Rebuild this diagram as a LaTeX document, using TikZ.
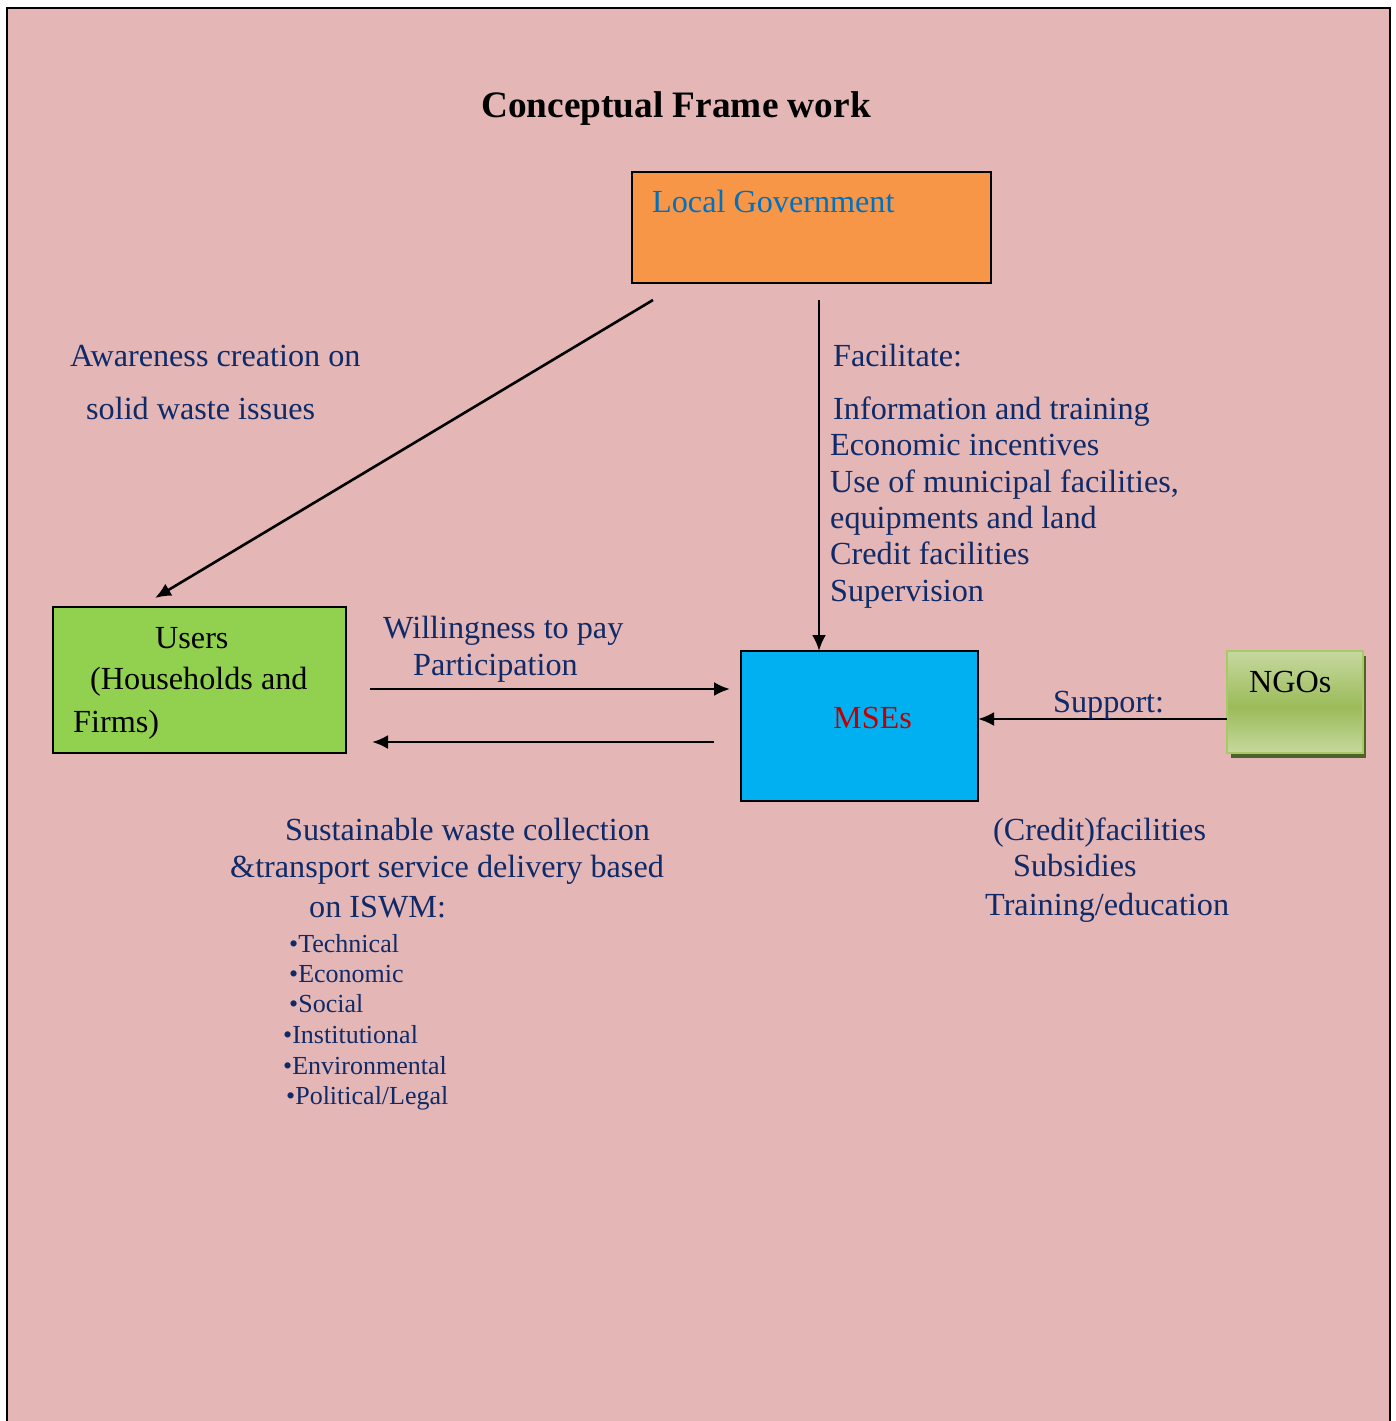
\documentclass[tikz,border=0pt]{standalone}
\usepackage{fontspec}
\setmainfont{Liberation Serif}
\usetikzlibrary{arrows.meta,shadows}
\definecolor{bgpink}{HTML}{E4B6B6}
\definecolor{lgorange}{HTML}{F79646}
\definecolor{usergreen}{HTML}{92D050}
\definecolor{msecyan}{HTML}{00B0F0}
\definecolor{navy}{HTML}{0F2A68}
\definecolor{lgblue}{HTML}{0070C0}
\definecolor{msered}{HTML}{C00000}
\definecolor{ngolight}{HTML}{C6D99F}
\definecolor{ngomid}{HTML}{9BBB59}
\definecolor{ngoborder}{HTML}{A8C86A}
\definecolor{ngoshadow}{HTML}{4F6228}
\tikzset{
  body/.style={inner sep=0pt, anchor=base west, text=navy, font=\fontsize{32.2}{36}\selectfont},
  small/.style={inner sep=0pt, anchor=base west, text=navy, font=\fontsize{26}{30}\selectfont},
  conn/.style={line width=2.6pt, -{Latex[length=16pt,width=14pt]}},
  boxline/.style={line width=1.8pt, draw=black},
}
\begin{document}
\begin{tikzpicture}[x=1pt,y=-1pt]
\useasboundingbox (0,0) rectangle (1395,1421);
\fill[white] (0,0) rectangle (1395,1421);
\fill[bgpink] (7,8) rectangle (1390,1421);
\draw[line width=2.5pt] (7,1421) -- (7,8) -- (1390,8) -- (1390,1421);

% title
\node[inner sep=0pt, anchor=base, font=\bfseries\fontsize{37.3}{40}\selectfont] (title) at (676,117) {Conceptual Frame work};

% boxes
\filldraw[boxline, fill=lgorange] (632,172) rectangle (991,283);
\node[body, text=lgblue] (lgtext) at (652,212) {Local Government};

\filldraw[boxline, fill=usergreen] (53,607) rectangle (346,753);
\node[body, text=black] (u1) at (155,648) {Users};
\node[body, text=black] (u2) at (90,689) {(Households and};
\node[body, text=black] (u3) at (73,732) {Firms)};

\filldraw[boxline, fill=msecyan] (741,651) rectangle (978,801);
\node[body, text=msered] (mse) at (833,728) {MSEs};

% NGOs box with shadow and gradient
\fill[ngoshadow] (1231,656) rectangle (1366,758);
\shade[top color=ngolight, bottom color=ngomid] (1227,651) rectangle (1363,707);
\shade[top color=ngomid, bottom color=ngolight] (1227,707) rectangle (1363,753);
\draw[ngoborder, line width=2.2pt] (1227,651) rectangle (1363,753);
\node[body, text=black] (ngo) at (1249,692) {NGOs};

% connector end points
\coordinate (lgDiag) at (653,300);
\coordinate (usersTop) at (155,598);
\coordinate (lgDown) at (819,300);
\coordinate (mseTop) at (819,651);
\coordinate (usersR) at (370,689);
\coordinate (mseL) at (730,689);
\coordinate (mseL2) at (714,742);
\coordinate (usersR2) at (372,742);
\coordinate (ngoL) at (1227,719);
\coordinate (mseR) at (978,719);

\draw[conn] (lgDiag) -- (usersTop);
\draw[conn] (lgDown) -- (mseTop);
\draw[conn] (usersR) -- (mseL);
\draw[conn] (mseL2) -- (usersR2);
\draw[conn] (ngoL) -- (mseR);

% labels
\node[body] (aw1) at (70,366) {Awareness creation on};
\node[body] (aw2) at (86,419) {solid waste issues};

\node[body] (f0) at (833,366) {Facilitate:};
\node[body] (f1) at (833,419) {Information and training};
\node[body] (f2) at (830,455) {Economic incentives};
\node[body] (f3) at (830,492) {Use of municipal facilities,};
\node[body] (f4) at (830,528) {equipments and land};
\node[body] (f5) at (830,564) {Credit facilities};
\node[body] (f6) at (830,601) {Supervision};

\node[body] (w1) at (383,638) {Willingness to pay};
\node[body] (w2) at (413,675) {Participation};

\node[body] (sup) at (1053,712) {Support:};

\node[body] (s1) at (285,840) {Sustainable waste collection};
\node[body] (s2) at (230,877) {\&transport service delivery based};
\node[body] (s3) at (309,917) {on ISWM:};

\node[small] (b1) at (289,952) {•Technical};
\node[small] (b2) at (289,982) {•Economic};
\node[small] (b3) at (289,1012) {•Social};
\node[small] (b4) at (283,1043) {•Institutional};
\node[small] (b5) at (283,1074) {•Environmental};
\node[small] (b6) at (286,1104) {•Political/Legal};

\node[body] (c1) at (993,840) {(Credit)facilities};
\node[body] (c2) at (1013,876) {Subsidies};
\node[body] (c3) at (985,915) {Training/education};
\end{tikzpicture}
\end{document}
